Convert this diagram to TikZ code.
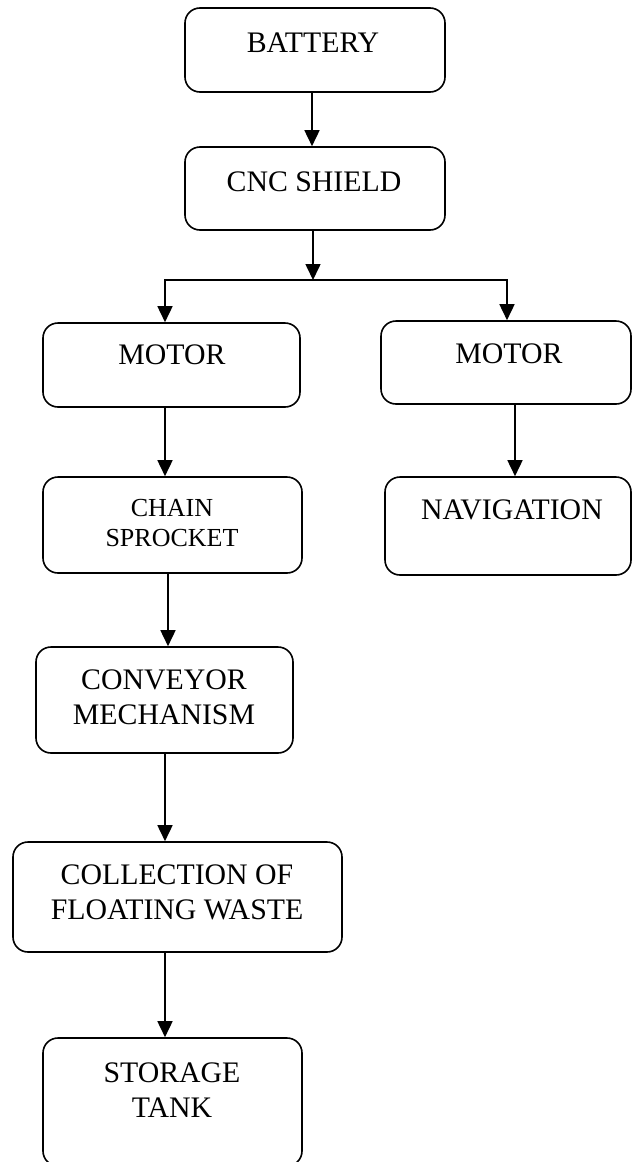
\documentclass[tikz,border=0pt]{standalone}
\usepackage{fontspec}
\setmainfont{Liberation Serif}
\usetikzlibrary{arrows.meta}

\begin{document}
\begin{tikzpicture}[x=1pt,y=-1pt,
  blk/.style={draw, line width=1.6pt, rounded corners=15pt, inner sep=0pt},
  txt/.style={align=center, inner sep=0pt, font=\fontsize{29.8}{35}\selectfont},
  arr/.style={line width=1.6pt, -{Triangle[length=16pt,width=15pt]}}]
\useasboundingbox (0,0) rectangle (632,1162);
\clip (0,0) rectangle (632,1162);
\coordinate (jun) at (313,280);
\coordinate (junL) at (165,280);
\coordinate (junR) at (507,280);
% draws boxes
\node[blk, minimum width=260, minimum height=84] (battery) at (315,50) {};
\node[blk, minimum width=260, minimum height=83] (cnc) at (315,188.5) {};
\node[blk, minimum width=257, minimum height=84] (motorL) at (171.5,365) {};
\node[blk, minimum width=250, minimum height=83] (motorR) at (506,362.5) {};
\node[blk, minimum width=259, minimum height=96] (chain) at (172.5,525) {};
\node[blk, minimum width=246, minimum height=98] (nav) at (508,526) {};
\node[blk, minimum width=257, minimum height=106] (conveyor) at (164.5,700) {};
\node[blk, minimum width=329, minimum height=110] (collection) at (177.5,897) {};
\node[blk, minimum width=259, minimum height=128] (storage) at (172.5,1102) {};
% labels boxes
\node[txt] (batteryTxt) at (313,43) {BATTERY};
\node[txt] (cncTxt) at (314,182) {CNC SHIELD};
\node[txt] (motorLTxt) at (172,355) {MOTOR};
\node[txt] (motorRTxt) at (509,354) {MOTOR};
\node[txt, font=\fontsize{26}{30}\selectfont] (chainTxt) at (172,523) {CHAIN\\SPROCKET};
\node[txt] (navTxt) at (512,510) {NAVIGATION};
\node[txt] (conveyorTxt) at (164,697) {CONVEYOR\\MECHANISM};
\node[txt] (collectionTxt) at (177,892) {COLLECTION OF\\FLOATING WASTE};
\node[txt] (storageTxt) at (172,1090) {STORAGE\\TANK};
% draws arrows
\draw[arr] ([xshift=-3pt]battery.south) -- ([xshift=-3pt]battery.south |- cnc.north);
\draw[arr] ([xshift=-2pt]cnc.south) -- (jun);
\draw[arr] (jun) -| (junL |- motorL.north);
\draw[arr] (jun) -| (junR |- motorR.north);
\draw[arr] (motorL.south -| junL) -- (chain.north -| junL);
\draw[arr] ([xshift=9pt]motorR.south) -- ([xshift=9pt]motorR.south |- nav.north);
\draw[arr] ([xshift=-4.5pt]chain.south) -- ([xshift=-4.5pt]chain.south |- conveyor.north);
\draw[arr] (conveyor.south -| junL) -- (collection.north -| junL);
\draw[arr] (collection.south -| junL) -- (storage.north -| junL);
\end{tikzpicture}
\end{document}
